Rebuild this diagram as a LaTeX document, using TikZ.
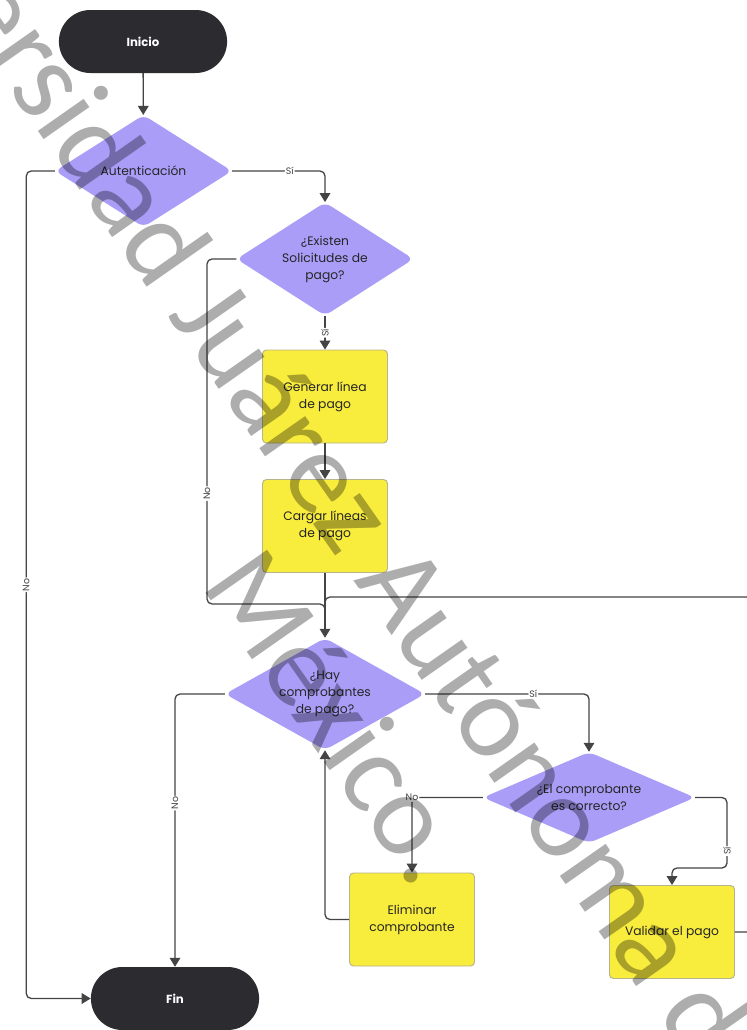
\documentclass[tikz,border=0pt]{standalone}
\usepackage{fontspec}
\setmainfont{Poppins}
\newfontfamily\wmfont{Carlito}
\usetikzlibrary{arrows.meta,shapes.geometric,shapes.misc}
\definecolor{termgray}{HTML}{2B2B30}
\definecolor{decpurple}{HTML}{A99DF8}
\definecolor{procyellow}{HTML}{F8EC3C}
\definecolor{procedge}{HTML}{B8B38A}
\definecolor{linegray}{HTML}{444444}
\definecolor{txtgray}{HTML}{262626}

\begin{document}
\begin{tikzpicture}[x=0.3mm,y=-0.3mm,
  term/.style={rounded rectangle,fill=termgray,text=white,font=\bfseries\fontsize{10}{12}\selectfont,minimum width=52.8mm,minimum height=18.9mm},
  decision/.style={diamond,fill=decpurple,rounded corners=2mm,text=txtgray,align=center,inner sep=0pt,font=\fontsize{10.5}{14.5}\selectfont},
  proc/.style={rectangle,fill=procyellow,draw=procedge,line width=0.8pt,rounded corners=1.2mm,text=txtgray,align=center,minimum width=37.5mm,minimum height=27.9mm,font=\fontsize{10.5}{14.5}\selectfont},
  link/.style={draw=linegray,line width=1.1pt,rounded corners=1.5mm},
  flow/.style={link,-{Triangle[length=2.7mm,width=3.2mm]}},
  lbl/.style={fill=white,inner sep=1pt,text=linegray,font=\fontsize{8}{9}\selectfont},
  mark text/.style={rotate=-55,anchor=base west,inner sep=0pt,text=black,text opacity=0.32,font=\wmfont\fontsize{100}{120}\selectfont}]
  \useasboundingbox[fill=white] (0,0) rectangle (747,1030);
  \clip (0,0) rectangle (747,1030);

  \node[term] (ini) at (143,41.5) {Inicio};
  \node[decision,aspect=1.58,minimum width=53.1mm,minimum height=33.6mm] (aut) at (143.5,171) {Autenticación};
  \node[decision,aspect=1.58,minimum width=53.1mm,minimum height=34mm] (exi) at (325,259) {¿Existen\\Solicitudes de\\pago?};
  \node[proc] (gen) at (325,396.5) {Generar línea\\de pago};
  \node[proc] (car) at (325,526) {Cargar líneas\\de pago};
  \node[decision,aspect=1.79,minimum width=60mm,minimum height=33.6mm] (hay) at (325,694) {¿Hay\\comprobantes\\de pago?};
  \node[decision,aspect=2.33,minimum width=63.6mm,minimum height=27.3mm] (cor) at (589,797.5) {¿El comprobante\\es correcto?};
  \node[proc] (eli) at (412,919.5) {Eliminar\\comprobante};
  \node[proc] (val) at (672,932) {Validar el pago};
  \node[term] (fin) at (175,998.5) {Fin};

  \coordinate (noL) at (207,604);
  \coordinate (jn) at (325,616);
  \coordinate (loop) at (775,597);
  \coordinate (siR) at (727,868);

  \draw[flow] (ini) -- (aut);
  \draw[flow] (aut.east) -| node[lbl,pos=0.31]{Sí} (exi.north);
  \draw[flow] (aut.west) -- ++(-28.5,0) |- node[lbl,rotate=90,pos=0.25]{No} (fin.west);
  \draw[link] (exi.west) -| node[lbl,rotate=90,pos=0.84]{No} (noL) -| (jn);
  \draw[flow] (exi) -- node[lbl,rotate=90]{Sí} (gen);
  \draw[flow] (gen) -- (car);
  \draw[flow] (car) -- (hay);
  \draw[flow] (hay.east) -| node[lbl,pos=0.33]{Sí} (cor.north);
  \draw[flow] (hay.west) -| node[lbl,rotate=90,pos=0.7]{No} (fin.north);
  \draw[flow] (cor.west) -| node[lbl]{No} (eli.north);
  \draw[flow] (cor.east) -| node[lbl,rotate=90,pos=0.88]{Sí} (siR) -| (val.north);
  \draw[flow] (eli.west) -| (hay.south);
  \draw[link] (val.east) -| (loop) -| (jn);

  \node[mark text] (wm) at (-172,-169) {Universidad Juárez Autónoma de};
  \node[mark text] (wmb) at (200,585) {México.};
\end{tikzpicture}
\end{document}
